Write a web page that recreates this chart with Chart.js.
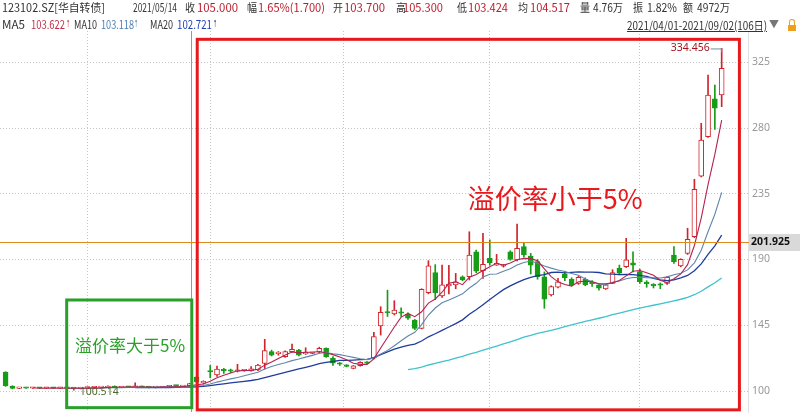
<!DOCTYPE html>
<html><head><meta charset="utf-8">
<script src="https://cdn.jsdelivr.net/npm/chart.js@4.4.0/dist/chart.umd.min.js"></script>
<style>
html,body{margin:0;padding:0;background:#fff;}
#wrap{position:relative;width:800px;height:413px;overflow:hidden;font-family:"Noto Sans CJK SC","Noto Sans",sans-serif;}
#c{position:absolute;left:0;top:0;}
.t{position:absolute;white-space:nowrap;font-size:11.5px;line-height:14px;color:#333;transform-origin:0 50%;}
.v{color:#bd1e2d}
.ar{font-family:"DejaVu Sans",sans-serif;font-size:10px;}
</style></head><body>
<div id="wrap">
<canvas id="c" width="800" height="413"></canvas>
<div class="t" data-w="103" style="left:2px;top:0px">123102.SZ[华自转债]</div>
<div class="t" data-w="44" style="left:133px;top:0px">2021/05/14</div>
<div class="t" data-w="10" style="left:185px;top:0px">收</div><div class="t v" data-w="41" style="left:197px;top:0px">105.000</div>
<div class="t" data-w="10" style="left:247px;top:0px">幅</div><div class="t v" data-w="67" style="left:258px;top:0px">1.65%(1.700)</div>
<div class="t" data-w="10" style="left:333px;top:0px">开</div><div class="t v" data-w="41" style="left:344px;top:0px">103.700</div>
<div class="t" data-w="10" style="left:396px;top:0px">高</div><div class="t v" data-w="40" style="left:403px;top:0px">105.300</div>
<div class="t" data-w="10" style="left:457px;top:0px">低</div><div class="t v" data-w="40" style="left:468px;top:0px">103.424</div>
<div class="t" data-w="10" style="left:518px;top:0px">均</div><div class="t v" data-w="40" style="left:530px;top:0px">104.517</div>
<div class="t" data-w="10" style="left:580px;top:0px">量</div><div class="t" data-w="30" style="left:593px;top:0px">4.76万</div>
<div class="t" data-w="10" style="left:633px;top:0px">振</div><div class="t" data-w="30" style="left:647px;top:0px">1.82%</div>
<div class="t" data-w="10" style="left:683px;top:0px">额</div><div class="t" data-w="33" style="left:697px;top:0px">4972万</div>
<div class="t" data-w="23" style="left:2px;top:17px">MA5</div>
<div class="t" data-w="34" style="left:31px;top:17px;color:#c0304a">103.622</div><div class="t ar" data-w="4" style="left:66px;top:17px;color:#c0304a">↑</div>
<div class="t" data-w="23" style="left:74px;top:17px">MA10</div>
<div class="t" data-w="33" style="left:101px;top:17px;color:#4a7fb0">103.118</div><div class="t ar" data-w="4" style="left:134px;top:17px;color:#4a7fb0">↑</div>
<div class="t" data-w="23" style="left:150px;top:17px">MA20</div>
<div class="t" data-w="35" style="left:177px;top:17px;color:#1f3fb0">102.721</div><div class="t ar" data-w="4" style="left:213px;top:17px;color:#1f3fb0">↑</div>
<div class="t" data-w="140" style="left:627px;top:18px;text-decoration:underline">2021/04/01-2021/09/02(106日)</div>
<div class="t" style="left:769px;top:17px;color:#777;font-size:10px">▼</div>
<div style="position:absolute;left:788px;top:25px;width:8px;height:6px;background:#f0a020;"></div>
<div style="position:absolute;left:789px;top:19px;width:4px;height:5px;border:1.5px solid #f0a020;border-bottom:none;border-radius:3px 3px 0 0;"></div>
</div>
<script>
// ---- data ----
const yTicks = [100, 145, 190, 235, 280, 325];
const monthStarts = [21, 39, 60, 82, 104];   // first trading day of May..Sep
const crossIndex = 27;                        // 2021/05/14
const lastPrice = 201.925;
const maxLabel = '334.456';
const minLabel = '100.514';

const opens = [113.0,103.4,101.8,102.0,101.9,102.1,101.9,102.1,101.9,102.0,101.8,101.6,102.0,102.2,102.4,102.3,103.4,102.4,102.8,102.5,103.3,102.5,102.3,102.4,102.9,103.6,103.0,103.7,
109.6,105.6,113.5,111.0,114.2,113.8,113.5,113.8,113.7,114.4,118.9,126.9,125.6,123.5,126.9,128.0,125.3,125.8,126.5,129.2,122.4,118.7,117.3,115.5,117.3,119.3,122.4,144.5,154.0,152.7,153.6,152.7,
148.6,142.9,167.3,181.0,165.0,171.9,172.6,178.2,178.2,195.3,182.3,190.8,186.2,185.5,195.3,189.7,198.8,192.4,188.5,178.2,165.7,171.0,180.0,176.5,173.7,176.5,173.9,172.6,169.8,173.7,
184.0,185.1,187.8,181.7,173.9,172.3,172.8,173.7,193.1,185.6,194.2,205.6,247.0,274.0,299.9,302.6];
const highs = [113.2,103.6,102.3,102.2,102.3,102.2,102.3,102.2,102.2,102.1,101.9,102.2,102.4,102.6,102.7,103.6,103.5,103.0,103.0,105.6,103.4,102.7,102.6,103.2,103.7,103.8,103.5,105.3,
110.2,107.0,117.5,117.0,115.5,115.0,118.3,114.3,116.8,118.3,135.4,128.0,127.0,127.5,132.2,128.5,129.6,126.5,130.0,129.5,123.5,119.5,118.0,117.5,120.0,120.2,140.2,157.7,169.0,161.8,157.0,153.5,
149.0,170.0,189.2,186.5,186.2,186.0,180.5,178.8,209.0,196.5,207.9,203.4,193.5,186.6,196.0,214.3,201.0,194.2,190.0,181.5,172.0,177.1,182.0,177.5,178.5,177.5,175.5,173.0,173.0,183.0,
186.2,204.5,195.3,183.5,175.5,173.5,174.0,178.5,198.8,190.5,211.4,244.9,283.2,316.3,309.4,334.456];
const lows = [103.2,101.5,101.6,101.7,101.8,101.7,101.8,101.7,101.7,101.5,100.514,101.4,101.8,102.0,102.2,102.2,102.2,102.3,102.4,102.4,102.3,102.1,102.1,102.3,102.8,103.1,102.9,103.424,
105.5,104.8,109.0,110.0,112.0,112.5,113.0,113.5,113.5,114.0,115.0,124.0,124.5,123.0,126.5,124.0,125.0,125.5,126.0,123.0,117.5,117.5,116.5,115.2,117.0,118.5,122.0,138.3,151.0,152.0,151.0,149.0,
142.0,142.5,166.5,162.5,164.0,166.5,170.0,175.5,176.0,181.0,177.1,186.2,186.0,184.8,189.5,189.0,191.6,180.1,176.5,156.6,165.0,170.5,175.5,172.0,173.0,172.0,171.5,169.0,169.5,173.5,
179.5,184.5,181.5,173.7,171.0,170.5,170.0,173.0,187.4,185.0,193.5,205.0,246.5,273.5,279.1,294.6];
const closes = [103.4,101.8,102.0,101.9,102.1,101.9,102.1,101.9,102.0,101.8,101.6,102.0,102.2,102.4,102.5,103.4,102.4,102.8,102.6,103.3,102.5,102.3,102.4,103.0,103.5,103.3,103.3,105.0,
106.3,106.0,113.0,115.0,113.8,113.5,113.9,114.0,115.2,117.8,127.6,124.6,125.9,126.9,128.6,124.6,126.5,126.1,129.2,123.5,119.0,118.3,116.9,117.3,119.6,119.0,137.2,153.8,153.4,155.4,153.2,149.8,
142.9,169.6,185.6,167.3,172.6,173.2,174.8,176.0,193.1,182.1,186.7,187.8,187.4,185.8,190.1,197.7,193.1,186.2,178.2,162.8,171.4,174.8,177.5,172.6,177.8,172.6,173.5,170.3,172.6,181.0,
180.6,189.7,186.2,174.8,173.5,171.9,172.4,177.8,188.5,190.1,203.8,238.0,271.8,302.6,293.5,320.9];

// moving-average lines (first value index given)
const ma5Start = 4;
const ma5 = [102.2,101.9,102.0,102.0,102.0,101.9,101.9,101.9,101.9,102.0,102.1,102.5,102.6,102.7,102.7,102.9,102.7,102.7,102.6,102.7,102.7,102.9,103.1,103.6,
104.3,104.8,106.7,109.1,110.8,112.3,113.8,114.0,114.1,114.9,117.7,119.8,122.2,124.6,126.7,126.1,126.5,126.5,127.0,126.0,124.9,123.2,121.4,119.0,118.2,118.2,
122.0,129.4,136.6,143.8,150.6,153.1,150.9,154.2,160.2,163.0,167.6,173.7,174.7,172.8,177.9,179.8,182.5,185.1,187.4,186.0,187.6,189.8,190.8,190.6,189.1,183.6,
178.3,174.7,172.9,171.8,174.8,175.1,174.8,173.4,173.4,174.0,175.6,178.8,182.0,182.5,181.0,179.2,175.8,174.1,176.8,180.1,186.5,199.6,218.4,241.3,261.9,285.4];
const ma10Start = 9;
const ma10 = [102.1,101.9,101.9,102.0,102.0,102.0,102.2,102.2,102.3,102.4,102.5,102.6,102.6,102.7,102.7,102.8,102.8,102.9,103.1,103.5,103.8,104.8,106.1,107.2,
108.3,109.3,110.4,111.6,112.9,115.0,116.8,118.1,119.3,120.8,121.9,123.2,124.4,125.8,126.4,125.5,124.9,124.0,123.0,122.1,121.5,122.6,125.4,127.8,131.0,134.4,
137.6,140.2,145.4,152.0,156.8,160.4,162.3,164.4,166.5,170.5,173.7,178.1,179.9,180.1,182.0,183.7,186.2,188.0,189.0,187.5,185.6,184.1,182.8,181.8,180.4,179.2,
176.7,174.7,173.2,172.6,174.4,175.3,176.8,177.7,177.9,177.5,177.4,177.3,178.1,179.6,180.6,182.9,187.7,196.3,209.0,221.0,235.9];
const ma20Start = 19;
const ma20 = [102.3,102.3,102.3,102.3,102.4,102.4,102.5,102.6,102.7,102.9,103.1,103.7,104.4,104.9,105.5,106.1,106.6,107.2,108.0,109.2,110.3,111.5,112.7,114.0,
115.1,116.2,117.4,118.7,119.6,120.2,120.9,121.0,121.2,121.5,121.7,122.9,124.9,126.8,128.7,130.0,131.2,132.1,134.2,137.1,139.2,141.5,143.8,146.1,148.7,152.5,
155.6,159.1,162.7,166.1,169.4,172.0,174.2,176.2,177.8,179.0,179.7,181.1,181.3,180.9,181.2,181.5,181.4,181.4,181.1,180.1,180.0,179.7,179.8,179.7,179.2,178.4,
177.1,176.0,175.6,176.1,177.5,179.1,182.3,187.0,193.5,199.3,206.7];
const ma60Start = 59;
const ma60 = [114.6,115.3,116.4,117.8,118.9,120.1,121.2,122.5,123.7,125.2,126.5,128.0,129.4,130.8,132.2,133.7,135.2,136.8,138.1,139.4,140.4,141.5,142.7,144.0,
145.2,146.4,147.6,148.7,149.8,150.9,152.2,153.3,154.5,155.7,156.8,157.8,158.7,159.7,160.7,161.7,162.8,164.1,165.9,168.3,171.3,174.1,177.3];

// fit header texts to the measured widths
function fitHeader() {
  document.querySelectorAll('.t[data-w]').forEach(el => {
    el.style.transform = 'none';
    const a = el.getBoundingClientRect().width;
    if (a > 0) el.style.transform = 'scaleX(' + (+el.dataset.w / a) + ')';
  });
}
fitHeader();
if (document.fonts && document.fonts.ready) document.fonts.ready.then(fitHeader);

// ---- styles ----
const RED = '#d1232a', GREEN = '#179c17', ORANGE = '#e08a1e';
const isUp = i => closes[i] >= opens[i];
const pts = (arr, s) => arr.map((v, k) => ({x: k + s, y: v}));
const wick = closes.map((c, i) => ({x: i, y: [lows[i], highs[i]]}));
const body = closes.map((c, i) => ({x: i, y: [opens[i], c]}));
const maxIdx = highs.indexOf(Math.max(...highs));
const minIdx = lows.indexOf(Math.min(...lows));

const annot = {
  id: 'annot',
  afterDatasetsDraw(chart) {
    const {ctx, chartArea: a, scales: {x, y}} = chart;
    ctx.save();
    // last price line
    const py = Math.round(y.getPixelForValue(lastPrice)) + 0.5;
    ctx.strokeStyle = ORANGE; ctx.lineWidth = 1;
    ctx.beginPath(); ctx.moveTo(a.left, py); ctx.lineTo(a.right + 2, py); ctx.stroke();
    ctx.fillStyle = '#d9d9d9';
    ctx.fillRect(a.right + 1, py - 8.5, 60, 17);
    ctx.fillStyle = '#111'; ctx.font = 'bold 10.5px "Noto Sans", sans-serif';
    ctx.textBaseline = 'middle'; ctx.textAlign = 'left';
    ctx.fillText(lastPrice.toFixed(3), a.right + 3, py);
    // crosshair
    const cx = Math.round(x.getPixelForValue(crossIndex)) + 1.5;
    ctx.beginPath(); ctx.moveTo(cx, a.top); ctx.lineTo(cx, a.bottom); ctx.stroke();
    // max / min labels
    const hx = x.getPixelForValue(maxIdx), hy = y.getPixelForValue(highs[maxIdx]);
    ctx.font = '10.5px "Noto Sans", sans-serif'; ctx.fillStyle = '#a3151e';
    ctx.textAlign = 'right';
    ctx.fillText(maxLabel, hx - 12, hy);
    ctx.strokeStyle = '#6f8fa8'; ctx.beginPath();
    ctx.moveTo(hx - 11, hy + 0.5); ctx.lineTo(hx, hy + 0.5); ctx.lineTo(hx, hy + 4); ctx.stroke();
    const lx = x.getPixelForValue(minIdx), ly = y.getPixelForValue(lows[minIdx]);
    ctx.fillStyle = '#4b6a2c'; ctx.textAlign = 'left';
    ctx.fillText(minLabel, lx + 6, ly + 2);
    // highlight boxes
    ctx.lineWidth = 3;
    const box = (x0, x1, y0, y1, col) => {
      const l = x.getPixelForValue(x0), r = x.getPixelForValue(x1);
      const t = y.getPixelForValue(y1), b = y.getPixelForValue(y0);
      ctx.strokeStyle = col; ctx.strokeRect(l, t, r - l, b - t);
    };
    box(28.1, 107.6, 87.1, 340.7, '#e8191d');
    box(8.96, 27.3, 88.6, 162.3, '#2aa02a');
    ctx.textAlign = 'center'; ctx.textBaseline = 'middle';
    ctx.fillStyle = '#e8191d'; ctx.font = '27px "Noto Sans CJK SC", sans-serif';
    ctx.fillText('溢价率小于5%', x.getPixelForValue(80.6), y.getPixelForValue(231.4));
    ctx.fillStyle = '#2aa02a'; ctx.font = '17px "Noto Sans CJK SC", sans-serif';
    ctx.fillText('溢价率大于5%', x.getPixelForValue(18.25), y.getPixelForValue(131.1));
    ctx.restore();
  }
};

new Chart(document.getElementById('c'), {
  data: {
    datasets: [
      {type: 'line', label: 'MA5', data: pts(ma5, ma5Start), borderColor: '#b5224f', borderWidth: 1.1, pointRadius: 0, order: 1},
      {type: 'line', label: 'MA10', data: pts(ma10, ma10Start), borderColor: '#5f86ad', borderWidth: 1.1, pointRadius: 0, order: 1},
      {type: 'line', label: 'MA20', data: pts(ma20, ma20Start), borderColor: '#1f3c9c', borderWidth: 1.3, pointRadius: 0, order: 1},
      {type: 'line', label: 'MA60', data: pts(ma60, ma60Start), borderColor: '#3ec3cc', borderWidth: 1.3, pointRadius: 0, order: 1},
      {type: 'bar', label: 'wick', data: wick, grouped: false, barThickness: 1, borderWidth: 0,
        backgroundColor: c => isUp(c.dataIndex) ? RED : GREEN, order: 3},
      {type: 'bar', label: 'body', data: body, grouped: false, barThickness: 5, borderWidth: 1, borderSkipped: false, minBarLength: 1.5,
        backgroundColor: c => isUp(c.dataIndex) ? '#ffffff' : GREEN,
        borderColor: c => isUp(c.dataIndex) ? RED : GREEN, order: 2}
    ]
  },
  options: {
    responsive: false, animation: false,
    layout: {padding: {top: 31, bottom: 1, left: 0, right: 0}},
    plugins: {legend: {display: false}, tooltip: {enabled: false}},
    scales: {
      x: {type: 'linear', min: -0.82, max: 108.86, offset: false,
        afterBuildTicks: s => { s.ticks = monthStarts.map(v => ({value: v})); },
        afterFit: s => { s.height = 0; s.paddingLeft = 0; s.paddingRight = 0; },
        ticks: {display: false},
        grid: {color: '#c4c4c4', drawTicks: false, lineWidth: 1},
        border: {display: false, dash: [1, 2]}},
      y: {type: 'linear', position: 'right', min: 85.63, max: 346.4,
        afterBuildTicks: s => { s.ticks = yTicks.map(v => ({value: v})); },
        afterFit: s => { s.width = 52; s.paddingTop = 0; s.paddingBottom = 0; },
        ticks: {color: '#999999', padding: 4, font: {size: 10.5, family: '"Noto Sans", sans-serif'}},
        grid: {color: '#c4c4c4', drawTicks: false, lineWidth: 1},
        border: {display: true, color: '#e0e0e0', dash: [1, 2]}}
    }
  },
  plugins: [annot]
});
</script>
</body></html>
